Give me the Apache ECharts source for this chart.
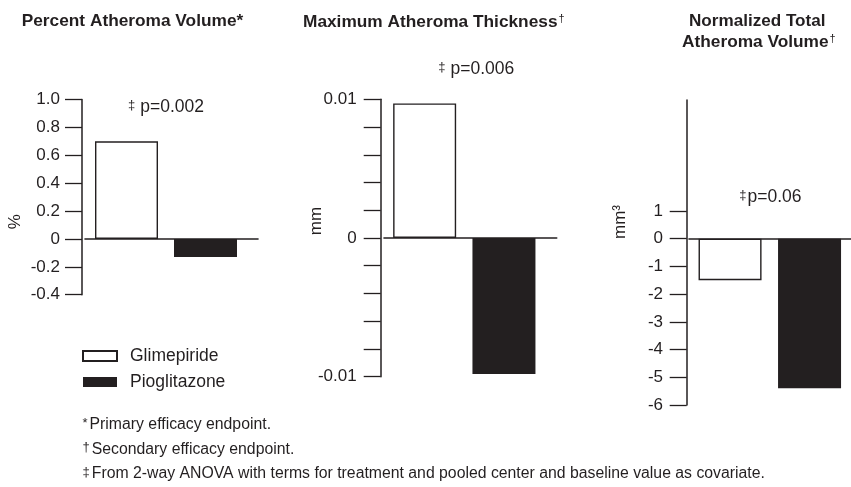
<!DOCTYPE html>
<html><head><meta charset="utf-8">
<script src="https://cdn.jsdelivr.net/npm/echarts@6/dist/echarts.min.js"></script>
<style>html,body{margin:0;padding:0;background:#fff}#c{width:851px;height:487px}</style>
</head><body><div id="c"></div>
<script>
// ---- data ----
const seriesNames = ['Glimepiride', 'Pioglitazone'];
const glimepiride = [0.70, 0.0097, -1.5];
const pioglitazone = [-0.13, -0.0098, -5.4];
const axisMin = [-0.4, -0.01, -6];
const axisMax = [1.0, 0.01, 5];
const axisInterval = [0.2, 0.002, 1];
const panel2LabelTicks = [-0.01, 0, 0.01];
const panel3Ticks = [-6, -5, -4, -3, -2, -1, 0, 1];
const panelTitles = ['Percent Atheroma Volume*', 'Maximum Atheroma Thickness', 'Normalized Total', 'Atheroma Volume'];
const unitLabels = ['%', 'mm', 'mm³'];
const pValues = ['p=0.002', 'p=0.006', 'p=0.06'];
const footnotes = ['Primary efficacy endpoint.', 'Secondary efficacy endpoint.', 'From 2-way ANOVA with terms for treatment and pooled center and baseline value as covariate.'];
const footSymbols = ['*', '†', '‡'];

// ---- layout ----
const INK = '#231f20';
const FONT = '"Liberation Sans", Arial, sans-serif';
const layout = [
  {axisX: 82, top: 99.5, bottom: 294.7, barLeft: 87, barW: 158, zeroL: 85, zeroR: 258, margin: 22},
  {axisX: 380.7, top: 99.3, bottom: 376.7, barLeft: 385, barW: 158.6, zeroL: 384, zeroR: 556.7, margin: 24},
  {axisX: 686.7, top: 100, bottom: 405, barLeft: 690.3, barW: 159, zeroL: 689, zeroR: 851, margin: 23.7}
];
const labelFormatters = [
  v => Math.abs(v) < 1e-9 ? '0' : v.toFixed(1),
  v => Math.abs(v) < 1e-9 ? '0' : v.toFixed(2),
  v => String(Math.round(v))
];

const grid = [], xAxis = [], yAxis = [], series = [];
layout.forEach((L, i) => {
  const h = L.bottom - L.top;
  grid.push({left: L.barLeft, top: L.top, width: L.barW, height: h});
  grid.push({left: L.zeroL, top: L.top, width: L.zeroR - L.zeroL, height: h});
  xAxis.push({type: 'category', gridIndex: 2 * i, data: seriesNames, show: false});
  xAxis.push({type: 'value', gridIndex: 2 * i + 1, min: 0, max: 1,
    axisLine: {show: true, onZero: true, lineStyle: {color: INK, width: 1.6}},
    axisTick: {show: false}, axisLabel: {show: false}, splitLine: {show: false}});
  const ya = {
    type: 'value', gridIndex: 2 * i, min: axisMin[i], max: axisMax[i], interval: axisInterval[i],
    offset: L.barLeft - L.axisX,
    axisLine: {show: true, lineStyle: {color: INK, width: 1.5}},
    axisTick: {show: true, length: 17, lineStyle: {color: INK, width: 1.3}},
    axisLabel: {show: true, margin: L.margin, color: INK, fontFamily: FONT, fontSize: 17, formatter: labelFormatters[i]},
    splitLine: {show: false}
  };
  if (i === 1) ya.axisLabel.customValues = panel2LabelTicks;
  if (i === 2) { ya.axisLabel.customValues = panel3Ticks; ya.axisTick.customValues = panel3Ticks; }
  yAxis.push(ya);
  yAxis.push({type: 'value', gridIndex: 2 * i + 1, min: axisMin[i], max: axisMax[i], show: false});
  series.push({
    type: 'bar', name: seriesNames[0], xAxisIndex: 2 * i, yAxisIndex: 2 * i,
    data: [glimepiride[i], '-'], barWidth: 63, barGap: '-100%',
    itemStyle: {color: '#ffffff', borderColor: INK, borderWidth: 1.4}, silent: true
  });
  series.push({
    type: 'bar', name: seriesNames[1], xAxisIndex: 2 * i, yAxisIndex: 2 * i,
    data: ['-', pioglitazone[i]], barWidth: 63, barGap: '-100%',
    itemStyle: {color: INK}, silent: true
  });
});

const txt = (x, y, text, opts) => Object.assign({
  type: 'text', x: x, y: y, silent: true,
  style: Object.assign({text: text, fill: INK, font: '17px ' + FONT, align: 'left', verticalAlign: 'middle'}, opts || {})
});
const dagRich = {
  b: {fontFamily: FONT, fontSize: 17.3, fontWeight: 'bold', color: INK},
  s: {fontFamily: FONT, fontSize: 11, color: INK, padding: [0, 0, 7, 1]}
};
const pRich = (gap) => ({
  s: {fontFamily: FONT, fontSize: 13, color: INK, padding: [0, gap, 4, 0]},
  n: {fontFamily: FONT, fontSize: 17.5, color: INK}
});
const fRich = {
  s: {fontFamily: FONT, fontSize: 13, color: INK, padding: [0, 2, 3, 0]},
  n: {fontFamily: FONT, fontSize: 15.8, color: INK}
};

const graphic = [
  txt(21.7, 21.5, panelTitles[0], {font: 'bold 17.3px ' + FONT}),
  txt(303, 22.5, '{b|' + panelTitles[1] + '}{s|†}', {rich: dagRich}),
  txt(689, 21, panelTitles[2], {font: 'bold 17.1px ' + FONT}),
  txt(682, 42, '{b|' + panelTitles[3] + '}{s|†}', {rich: dagRich}),
  txt(128, 107, '{s|‡}{n|' + pValues[0] + '}', {rich: pRich(5)}),
  txt(438.3, 69, '{s|‡}{n|' + pValues[1] + '}', {rich: pRich(5)}),
  txt(739.3, 197.5, '{s|‡}{n|' + pValues[2] + '}', {rich: pRich(1)}),
  Object.assign(txt(15.7, 221.7, unitLabels[0], {align: 'center'}), {rotation: Math.PI / 2}),
  Object.assign(txt(316, 221, unitLabels[1], {align: 'center'}), {rotation: Math.PI / 2}),
  Object.assign(txt(620, 222, unitLabels[2], {align: 'center'}), {rotation: Math.PI / 2}),
  txt(82.5, 425, '{s|' + footSymbols[0] + '}{n|' + footnotes[0] + '}', {rich: fRich}),
  txt(82.5, 449.3, '{s|' + footSymbols[1] + '}{n|' + footnotes[1] + '}', {rich: fRich}),
  txt(82.5, 474, '{s|' + footSymbols[2] + '}{n|' + footnotes[2] + '}', {rich: fRich})
];

const chart = echarts.init(document.getElementById('c'), null, {renderer: 'canvas'});
chart.setOption({
  animation: false,
  backgroundColor: '#ffffff',
  grid: grid, xAxis: xAxis, yAxis: yAxis, series: series,
  legend: {
    data: seriesNames, left: 77, top: 341, orient: 'vertical',
    icon: 'rect', itemWidth: 34, itemHeight: 10, itemGap: 6,
    textStyle: {color: INK, fontFamily: FONT, fontSize: 17.5, lineHeight: 20, padding: [0, 0, 0, 8]},
    selectedMode: false
  },
  graphic: graphic
});
</script></body></html>
